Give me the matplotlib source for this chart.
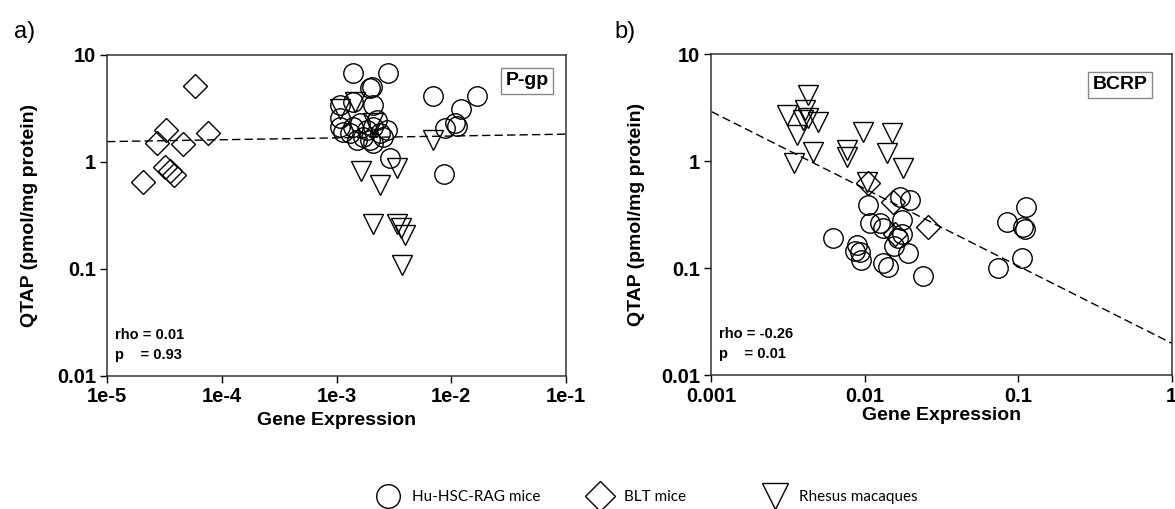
import matplotlib.pyplot as plt
from matplotlib.lines import Line2D

plt.rcParams['font.family'] = ['Liberation Sans', 'DejaVu Sans']

# ---- P-gp (panel a) ----
pgp_hu_x = [1.40e-3, 2.79e-3, 1.96e-3, 2.05e-3, 2.09e-3, 1.40e-3, 1.07e-3, 1.07e-3, 1.15e-3,
            1.40e-3, 1.60e-3, 1.83e-3, 2.09e-3, 2.39e-3, 1.71e-3, 1.50e-3, 1.96e-3, 2.56e-3,
            2.74e-3, 2.24e-3, 1.31e-3, 2.09e-3, 1.07e-3, 2.92e-3,
            6.89e-3, 1.67e-2, 1.21e-2, 1.08e-2, 1.12e-2, 8.8e-3, 8.6e-3]
pgp_hu_y = [6.74, 6.74, 4.89, 5.06, 3.41, 3.66, 3.41, 2.56, 1.92,
            2.14, 2.30, 1.99, 2.14, 1.85, 1.72, 1.61, 1.61, 1.72,
            1.99, 2.47, 1.85, 1.50, 2.14, 1.08,
            4.14, 4.14, 3.10, 2.30, 2.17, 2.07, 0.78]

pgp_blt_x = [5.8e-5, 3.27e-5, 2.71e-5, 4.57e-5, 7.55e-5, 3.2e-5, 3.55e-5, 3.8e-5, 2.05e-5]
pgp_blt_y = [5.13, 1.99, 1.50, 1.46, 1.85, 0.90, 0.83, 0.757, 0.646]

pgp_rm_x = [1.45e-3, 1.07e-3, 2.09e-3, 6.98e-3, 1.63e-3, 3.39e-3, 2.39e-3, 2.07e-3,
            3.39e-3, 3.62e-3, 3.95e-3, 3.70e-3]
pgp_rm_y = [3.6, 3.1, 2.3, 1.61, 0.83, 0.87, 0.61, 0.264,
            0.264, 0.240, 0.208, 0.109]

pgp_fit_x = [1e-5, 1e-1]
pgp_fit_y = [1.55, 1.82]

# ---- BCRP (panel b) ----
bcrp_hu_x = [1.05e-2, 6.2e-3, 8.85e-3, 9.3e-3, 8.6e-3, 9.5e-3, 1.32e-2, 1.42e-2, 1.08e-2,
             1.25e-2, 1.32e-2, 1.69e-2, 1.97e-2, 1.74e-2, 1.74e-2, 1.92e-2, 2.4e-2,
             1.55e-2, 1.65e-2, 8.4e-2, 0.112, 0.108, 0.110, 0.105, 0.074]
bcrp_hu_y = [0.39, 0.19, 0.165, 0.143, 0.145, 0.12, 0.111, 0.104, 0.264,
             0.264, 0.24, 0.467, 0.435, 0.28, 0.21, 0.138, 0.084,
             0.16, 0.19, 0.273, 0.37, 0.245, 0.235, 0.124, 0.10]

bcrp_blt_x = [1.05e-2, 1.52e-2, 1.57e-2, 2.59e-2]
bcrp_blt_y = [0.62, 0.42, 0.21, 0.245]

bcrp_rm_x = [4.28e-3, 3.09e-3, 4.06e-3, 3.96e-3, 4.28e-3, 4.97e-3, 3.59e-3, 4.61e-3, 3.45e-3,
             9.77e-3, 7.6e-3, 7.6e-3, 1.50e-2, 1.39e-2, 1.78e-2, 1.03e-2]
bcrp_rm_y = [4.15, 2.70, 3.01, 2.42, 2.51, 2.33, 1.75, 1.23, 0.955,
             1.88, 1.27, 1.10, 1.82, 1.19, 0.86, 0.644]

bcrp_fit_x = [1e-3, 1]
bcrp_fit_y = [2.9, 0.020]

y_ticks = [0.01, 0.1, 1, 10]
y_ticklabels = ['0.01', '0.1', '1', '10']
pgp_xticks = [1e-5, 1e-4, 1e-3, 1e-2, 1e-1]
pgp_xticklabels = ['1e-5', '1e-4', '1e-3', '1e-2', '1e-1']
bcrp_xticks = [1e-3, 1e-2, 1e-1, 1]
bcrp_xticklabels = ['0.001', '0.01', '0.1', '1']

legend_labels = ['Hu-HSC-RAG mice', 'BLT mice', 'Rhesus macaques']

fig = plt.figure(figsize=(11.75, 5.09), dpi=100)
ax1 = fig.add_axes([0.0911, 0.2613, 0.3906, 0.6307])
ax2 = fig.add_axes([0.6055, 0.2623, 0.3917, 0.6316])

mk = dict(linestyle='none', markerfacecolor='none', markeredgecolor='black', markeredgewidth=1.0)


def panel(ax, hu_x, hu_y, blt_x, blt_y, rm_x, rm_y, fit_x, fit_y, xlim, xticks, xticklabels,
          gene, gene_pos, rho, p):
    ax.plot(hu_x, hu_y, marker='o', markersize=14, **mk)
    ax.plot(blt_x, blt_y, marker='D', markersize=12, **mk)
    ax.plot(rm_x, rm_y, marker='v', markersize=14.5, **mk)
    ax.plot(fit_x, fit_y, color='black', linestyle=(0, (6, 3)), linewidth=1.0)
    ax.set_xscale('log')
    ax.set_yscale('log')
    ax.set_xlim(xlim)
    ax.set_ylim(0.01, 10)
    ax.set_xticks(xticks)
    ax.set_xticklabels(xticklabels)
    ax.set_yticks(y_ticks)
    ax.set_yticklabels(y_ticklabels)
    ax.minorticks_off()
    ax.tick_params(direction='out', length=5, width=1, labelsize=14.5, pad=3)
    for lab in ax.get_xticklabels() + ax.get_yticklabels():
        lab.set_fontweight('bold')
    for s in ax.spines.values():
        s.set_color('#333333')
        s.set_linewidth(1.1)
    ax.set_xlabel('Gene Expression', fontsize=14, fontweight='bold')
    ax.set_ylabel('QTAP (pmol/mg protein)', fontsize=14, fontweight='bold')
    ax.text(gene_pos[0], gene_pos[1], gene, transform=ax.transAxes, ha='center', va='center',
            fontsize=14, fontweight='bold',
            bbox=dict(boxstyle='square,pad=0.25', facecolor='white', edgecolor='#888888', linewidth=1))
    ax.text(0.017, 0.128, 'rho = ' + rho, transform=ax.transAxes, fontsize=10.5,
            fontweight='bold', va='center')
    ax.text(0.017, 0.066, 'p    = ' + p, transform=ax.transAxes, fontsize=10.5,
            fontweight='bold', va='center')


panel(ax1, pgp_hu_x, pgp_hu_y, pgp_blt_x, pgp_blt_y, pgp_rm_x, pgp_rm_y, pgp_fit_x, pgp_fit_y,
      (1e-5, 1e-1), pgp_xticks, pgp_xticklabels, 'P-gp', (0.915, 0.919), '0.01', '0.93')
panel(ax2, bcrp_hu_x, bcrp_hu_y, bcrp_blt_x, bcrp_blt_y, bcrp_rm_x, bcrp_rm_y, bcrp_fit_x,
      bcrp_fit_y, (1e-3, 1), bcrp_xticks, bcrp_xticklabels, 'BCRP', (0.888, 0.904), '-0.26', '0.01')

ax1.yaxis.set_label_coords(-0.15, 0.5)
ax2.yaxis.set_label_coords(-0.145, 0.5)
ax1.xaxis.set_label_coords(0.5, -0.112)
ax2.xaxis.set_label_coords(0.5, -0.098)

fig.text(0.021, 0.937, 'a)', fontsize=17, ha='center', va='center')
fig.text(0.532, 0.937, 'b)', fontsize=17, ha='center', va='center')

# one legend entry each, so the three can sit where they belong under the panels
legend_markers = [('o', 17), ('D', 15), ('v', 19)]
legend_left = [0.3204, 0.5009, 0.6498]
for (m, ms), lab, x0 in zip(legend_markers, legend_labels, legend_left):
    h = Line2D([], [], marker=m, markersize=ms, **mk)
    fig.legend([h], [lab], loc='center left', bbox_to_anchor=(x0, 0.0236), frameon=False,
               prop={'family': 'Lato', 'size': 11}, handlelength=1.5, handletextpad=0.85,
               borderaxespad=0, borderpad=0)

fig.savefig('out.png', dpi=100)
